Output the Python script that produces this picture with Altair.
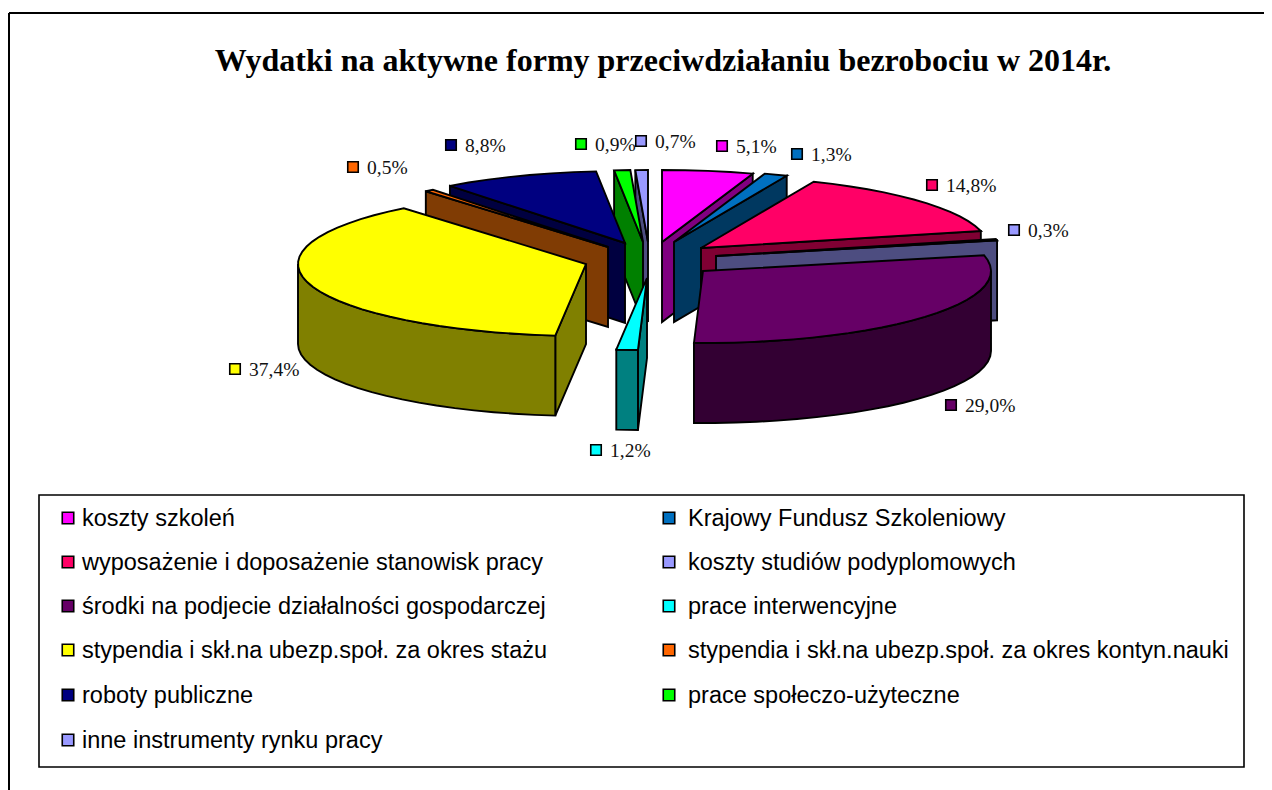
import math
import altair as alt
import pandas as pd

TITLE = "Wydatki na aktywne formy przeciwdziałaniu bezrobociu w 2014r."
categories = [
    "koszty szkoleń", "Krajowy Fundusz Szkoleniowy",
    "wyposażenie i doposażenie stanowisk pracy", "koszty studiów podyplomowych",
    "środki na podjecie działalności gospodarczej", "prace interwencyjne",
    "stypendia i skł.na ubezp.społ. za okres stażu",
    "stypendia i skł.na ubezp.społ. za okres kontyn.nauki",
    "roboty publiczne", "prace społeczo-użyteczne", "inne instrumenty rynku pracy",
]
values = [5.1, 1.3, 14.8, 0.3, 29.0, 1.2, 37.4, 0.5, 8.8, 0.9, 0.7]
colors = ["#FF00FF", "#0070C0", "#FF0066", "#9999FF", "#660066", "#00FFFF",
          "#FFFF00", "#FF6600", "#000080", "#00FF00", "#9999FF"]
dark = ["#800080", "#003860", "#800033", "#4D4D80", "#330033", "#008080",
        "#808000", "#803C04", "#000040", "#008000", "#4D4D80"]

# layout of the exploded 3-D pie
apex_x = [662, 674, 701, 716, 703, 647, 586, 608, 625, 643, 648]
apex_y = [242, 242, 248, 256, 271, 278, 264, 247, 243, 242, 242]
RX, RY, DEPTH = 288, 72, 80
draw_order = [10, 0, 9, 8, 7, 1, 2, 3, 6, 4, 5]

label_x = [722, 797, 932, 1014, 951, 596, 235, 353, 451, 581, 641]
label_y = [146, 154, 185, 230, 405, 450, 369, 167, 145, 144, 141]
legend_order = list(range(11))
legend_col_x = [68, 669]
legend_row_y = [518, 562, 606, 650, 695, 740]
legend_text_dx = [14, 19]

W, H = 1256, 782
SX = alt.Scale(domain=[8, 8 + W], range=[0, W])
SY = alt.Scale(domain=[8, 8 + H], range=[0, H])
X = alt.X("x:Q", scale=SX, axis=None)
Y = alt.Y("y:Q", scale=SY, axis=None)


def pt(i, deg):
    r = math.radians(deg)
    return apex_x[i] + RX * math.sin(r), apex_y[i] - RY * math.cos(r)


def arc(i, a, b):
    n = max(1, int(abs(b - a) / 4))
    return [pt(i, a + (b - a) * k / n) for k in range(n + 1)]


def poly(points, fill, sw=1.9):
    df = pd.DataFrame({"x": [p[0] for p in points], "y": [p[1] for p in points],
                       "i": range(len(points))})
    return alt.Chart(df).mark_line(
        interpolate="linear-closed", fill=fill, stroke="black",
        strokeWidth=sw, strokeJoin="miter", clip=False,
    ).encode(x=X, y=Y, order=alt.Order("i:Q"))


layers = []


def rule(x1, y1, x2, y2, sw):
    df = pd.DataFrame({"x": [x1, x2], "y": [y1, y2], "i": [0, 1]})
    return alt.Chart(df).mark_line(color="black", strokeWidth=sw).encode(
        x=X, y=Y, order=alt.Order("i:Q"))


# frame (open on the right and at the bottom, as cropped in the reference)
layers += [rule(9, 13, 9, 790, 2), rule(9, 13, 1264, 13, 2)]

# pie
cum = [0]
for v in values:
    cum.append(cum[-1] + v)
scale = 360 / cum[-1]
for i in draw_order:
    a, b = cum[i] * scale, cum[i + 1] * scale
    ax, ay = apex_x[i], apex_y[i]
    for ang in (a, b):
        ex, ey = pt(i, ang)
        if ang < 180 and ang == b or ang >= 180 and ang == a:
            layers.append(poly([(ax, ay), (ex, ey), (ex, ey + DEPTH), (ax, ay + DEPTH)], dark[i]))
    lo, hi = max(a, 90), min(b, 270)
    if lo < hi:
        top = arc(i, lo, hi)
        layers.append(poly(top + [(x, y + DEPTH) for x, y in reversed(top)], dark[i]))
    layers.append(poly([(ax, ay)] + arc(i, a, b), colors[i]))

# data labels
lab = pd.DataFrame({
    "x": label_x, "y": label_y, "c": colors,
    "t": [f"{v:.1f}".replace(".", ",") + "%" for v in values],
})
layers.append(alt.Chart(lab).mark_square(size=110, stroke="black", strokeWidth=1.6, opacity=1).encode(
    x=X, y=Y, fill=alt.Fill("c:N", scale=None)))
layers.append(alt.Chart(lab).mark_text(align="left", baseline="middle", dx=14, dy=1,
                                       font="Liberation Serif", fontSize=19.5, color="#111").encode(
    x=X, y=Y, text="t:N"))

# legend box
box = pd.DataFrame({"x": [39], "x2": [1244], "y": [495], "y2": [767]})
layers.append(alt.Chart(box).mark_rect(fill="white", stroke="black", strokeWidth=1.6).encode(
    x=X, x2="x2:Q", y=Y, y2="y2:Q"))
leg = pd.DataFrame({
    "x": [legend_col_x[k % 2] for k in legend_order],
    "tx": [legend_col_x[k % 2] + legend_text_dx[k % 2] for k in legend_order],
    "y": [legend_row_y[k // 2] for k in legend_order],
    "c": colors, "t": categories,
})
layers.append(alt.Chart(leg).mark_square(size=132, stroke="black", strokeWidth=1.6, opacity=1).encode(
    x=X, y=Y, fill=alt.Fill("c:N", scale=None)))
layers.append(alt.Chart(leg).mark_text(align="left", baseline="middle", dy=1,
                                       font="Liberation Sans", fontSize=23.5, color="black").encode(
    x=alt.X("tx:Q", scale=SX, axis=None), y=Y, text="t:N"))

# title
ttl = pd.DataFrame({"x": [663], "y": [61], "t": [TITLE]})
layers.append(alt.Chart(ttl).mark_text(align="center", baseline="middle", font="Liberation Serif",
                                       fontSize=32, fontWeight="bold", color="black").encode(
    x=X, y=Y, text="t:N"))

chart = alt.layer(*layers).properties(
    width=W, height=H, padding=0, background="white",
    autosize=alt.AutoSizeParams(type="none"),
).configure_view(stroke=None)
chart.save("out.html", embed_options={"renderer": "svg", "actions": False})
